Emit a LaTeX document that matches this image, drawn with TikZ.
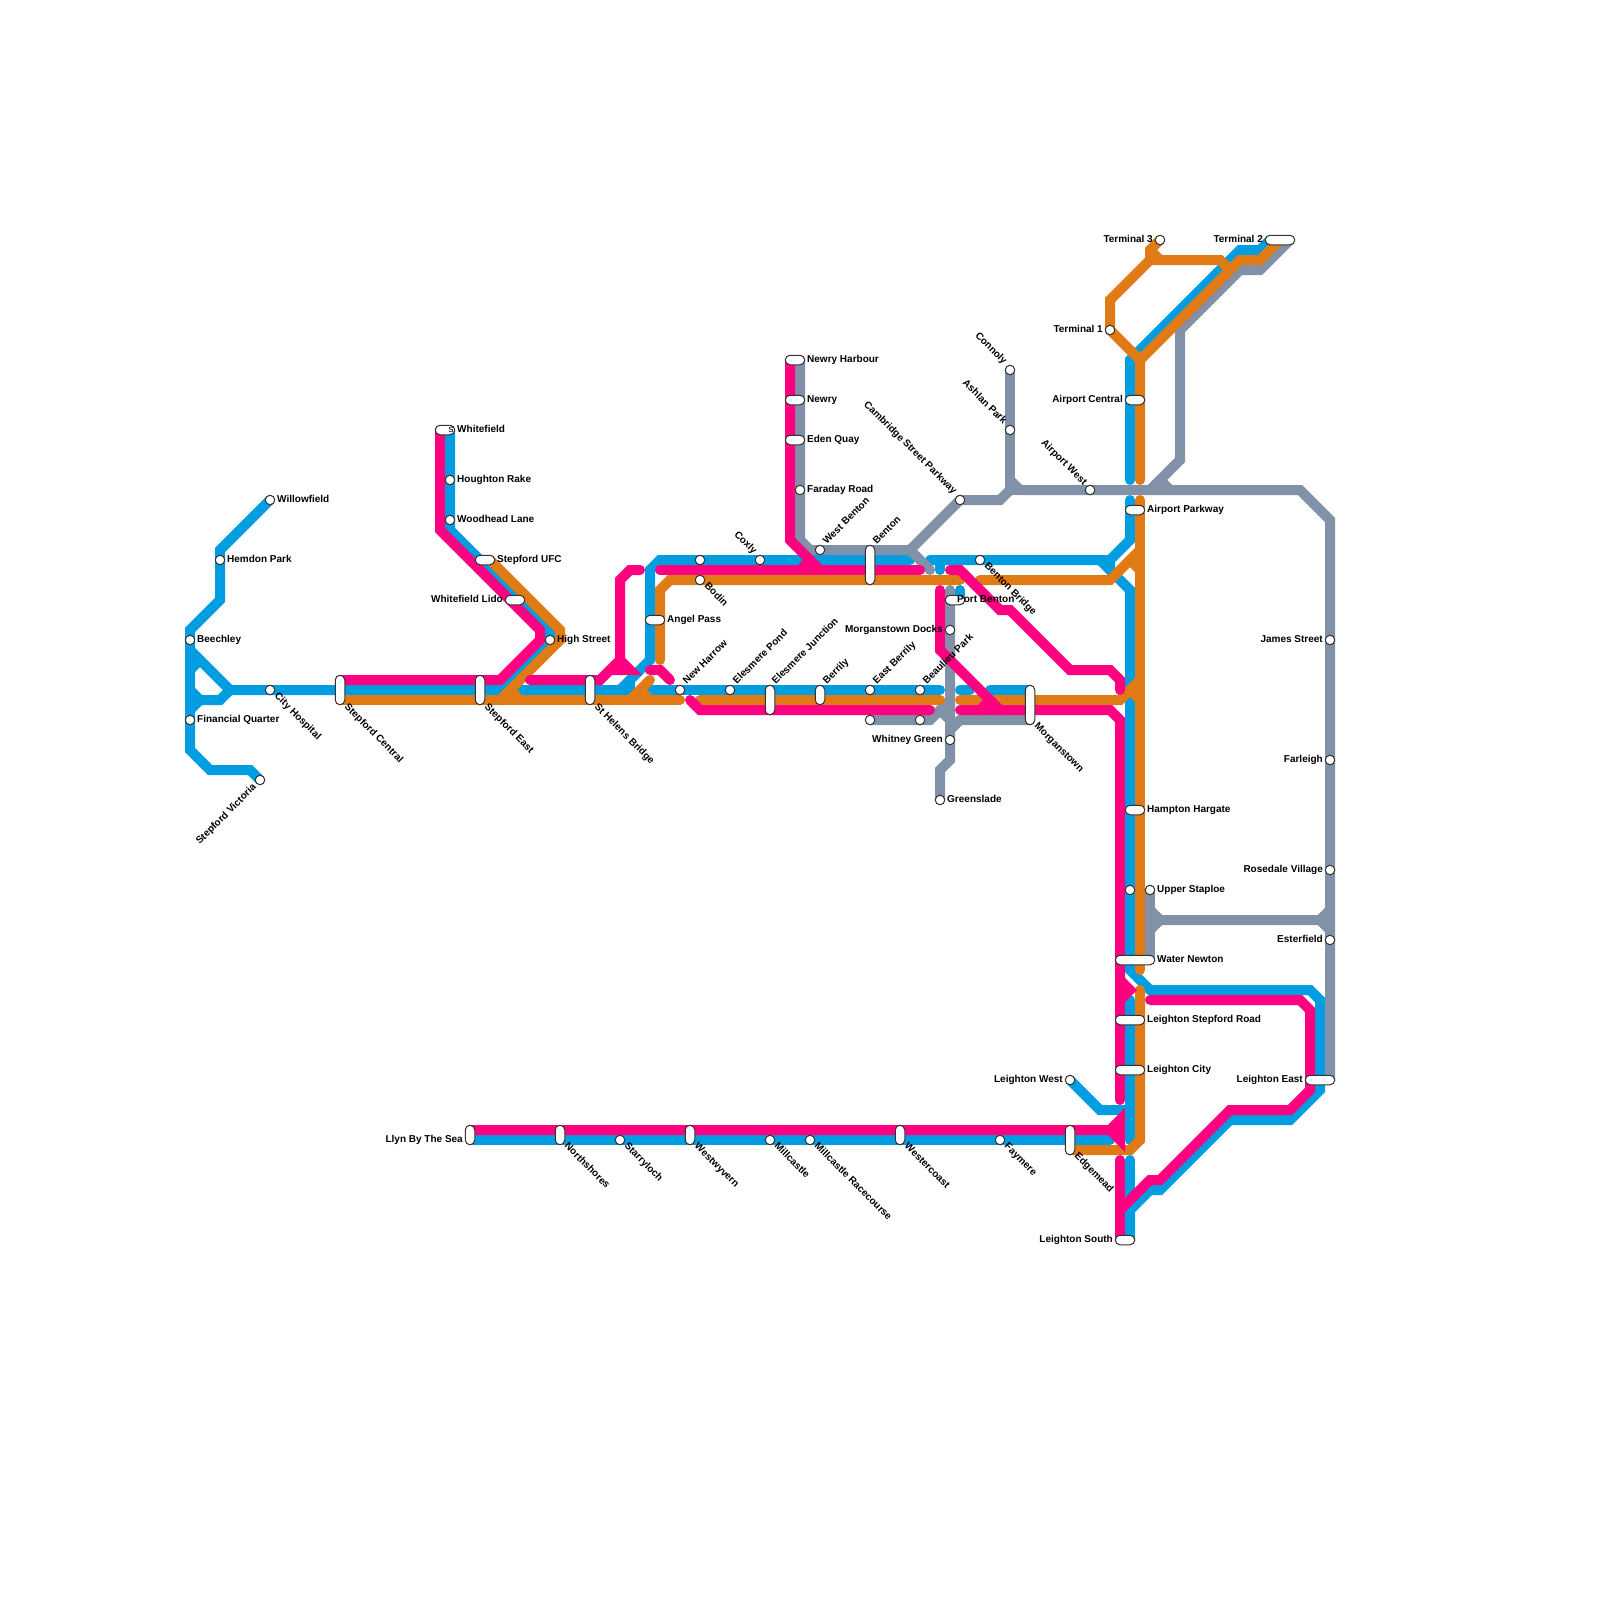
\documentclass[tikz,border=0pt]{standalone}
\usepackage{fontspec}
\setmainfont{Liberation Sans}
\usetikzlibrary{backgrounds}
\definecolor{lineblue}{rgb}{0,0.62,0.88}
\definecolor{linepink}{rgb}{1,0,0.5}
\definecolor{lineorange}{rgb}{0.88,0.48,0.08}
\definecolor{linegrey}{rgb}{0.5,0.57,0.66}
\definecolor{edge}{rgb}{0.2,0.2,0.2}
\begin{document}
\begin{tikzpicture}[
		x=1pt, y=-1pt,
		st/.style = {circle, draw=edge, fill=white, line width=1pt, inner sep=0pt, minimum size=9.5pt},
		hb/.style = {rectangle, rounded corners=4.75pt, draw=edge, fill=white, line width=1pt, inner sep=0pt, minimum width=9.5pt, minimum height=9.5pt},
		tx/.style = {font=\fontsize{10}{12}\selectfont\bfseries, inner sep=0pt, text height=7.2pt, text depth=2.2pt},
		tr/.style = {tx, anchor=west, xshift=-1pt, yshift=-1.3pt},
		tl/.style = {tx, anchor=east, xshift=1pt, yshift=-1.3pt},
		tne/.style = {tx, anchor=west, rotate=45},
		tse/.style = {tx, anchor=west, rotate=-45, xshift=-1pt, yshift=0.5pt},
		tnw/.style = {tx, anchor=east, rotate=-45},
		tsw/.style = {tx, anchor=east, rotate=45},
		rl/.style = {line width=10pt, line cap=round},
		lb/.style = {rl, draw=lineblue},
		lg/.style = {rl, draw=linegrey},
		lo/.style = {rl, draw=lineorange},
		lp/.style = {rl, draw=linepink}
		]
		\useasboundingbox (0,0) rectangle (1600,1600);

		%Stations
		\node[st]	(willowfield)	at	(270, 500)	{};
		\node[st]	(hemdon)	at	(220, 560)	{};
		\node[st]	(beechley)	at	(190, 640)	{};
		\node[st]	(financial)	at	(190, 720)	{};
		\node[st]	(cityhosp)	at	(270, 690)	{};
		\node[st]	(victoria)	at	(260, 780)	{};
		\node[hb, minimum height=29.5pt]	(stepcentral)	at	(340, 690)	{};
		\node[hb, minimum height=29.5pt]	(stepeast)	at	(480, 690)	{};
		\node[hb, minimum height=29.5pt]	(sthelens)	at	(590, 690)	{};
		\node[hb, minimum width=19.5pt]	(whitefield)	at	(445, 430)	{};
		\node[st]	(houghton)	at	(450, 480)	{};
		\node[st]	(woodhead)	at	(450, 520)	{};
		\node[hb, minimum width=19.5pt]	(stepufc)	at	(485, 560)	{};
		\node[hb, minimum width=19.5pt]	(lido)	at	(515, 600)	{};
		\node[st]	(highst)	at	(550, 640)	{};
		\node[hb, minimum width=19.5pt]	(angel)	at	(655, 620)	{};
		\node[st]	(blank1)	at	(700, 560)	{};
		\node[st]	(bodin)	at	(700, 580)	{};
		\node[st]	(coxly)	at	(760, 560)	{};
		\node[st]	(newharrow)	at	(680, 690)	{};
		\node[st]	(pond)	at	(730, 690)	{};
		\node[hb, minimum height=29.5pt]	(junction)	at	(770, 700)	{};
		\node[hb, minimum height=19.5pt]	(berrily)	at	(820, 695)	{};
		\node[st]	(eastberrily)	at	(870, 690)	{};
		\node[st]	(beaulieu)	at	(920, 690)	{};
		\node[st]	(blank2)	at	(870, 720)	{};
		\node[st]	(blank3)	at	(920, 720)	{};
		\node[hb, minimum width=19.5pt]	(harbour)	at	(795, 360)	{};
		\node[hb, minimum width=19.5pt]	(newry)	at	(795, 400)	{};
		\node[hb, minimum width=19.5pt]	(eden)	at	(795, 440)	{};
		\node[st]	(faraday)	at	(800, 490)	{};
		\node[st]	(westbenton)	at	(820, 550)	{};
		\node[hb, minimum height=39.5pt]	(benton)	at	(870, 565)	{};
		\node[st]	(cambridge)	at	(960, 500)	{};
		\node[st]	(connoly)	at	(1010, 370)	{};
		\node[st]	(ashlan)	at	(1010, 430)	{};
		\node[st]	(airportwest)	at	(1090, 490)	{};
		\node[st]	(bentonbr)	at	(980, 560)	{};
		\node[hb, minimum width=19.5pt]	(portbenton)	at	(955, 600)	{};
		\node[st]	(docks)	at	(950, 630)	{};
		\node[st]	(whitney)	at	(950, 740)	{};
		\node[st]	(greenslade)	at	(940, 800)	{};
		\node[hb, minimum height=39.5pt]	(morganstown)	at	(1030, 705)	{};
		\node[st]	(term1)	at	(1110, 330)	{};
		\node[st]	(term3)	at	(1160, 240)	{};
		\node[hb, minimum width=29.5pt]	(term2)	at	(1280, 240)	{};
		\node[hb, minimum width=19.5pt]	(central)	at	(1135, 400)	{};
		\node[hb, minimum width=19.5pt]	(parkway)	at	(1135, 510)	{};
		\node[hb, minimum width=19.5pt]	(hargate)	at	(1135, 810)	{};
		\node[st]	(blank4)	at	(1130, 890)	{};
		\node[st]	(staploe)	at	(1150, 890)	{};
		\node[hb, minimum width=39.5pt]	(newton)	at	(1135, 960)	{};
		\node[hb, minimum width=29.5pt]	(stepford)	at	(1130, 1020)	{};
		\node[hb, minimum width=29.5pt]	(city)	at	(1130, 1070)	{};
		\node[hb, minimum width=19.5pt]	(south)	at	(1125, 1240)	{};
		\node[hb, minimum width=29.5pt]	(east)	at	(1320, 1080)	{};
		\node[st]	(west)	at	(1070, 1080)	{};
		\node[st]	(james)	at	(1330, 640)	{};
		\node[st]	(farleigh)	at	(1330, 760)	{};
		\node[st]	(rosedale)	at	(1330, 870)	{};
		\node[st]	(esterfield)	at	(1330, 940)	{};
		\node[hb, minimum height=19.5pt]	(llyn)	at	(470, 1135)	{};
		\node[hb, minimum height=19.5pt]	(northshores)	at	(560, 1135)	{};
		\node[st]	(starryloch)	at	(620, 1140)	{};
		\node[hb, minimum height=19.5pt]	(westwyvern)	at	(690, 1135)	{};
		\node[st]	(millcastle)	at	(770, 1140)	{};
		\node[st]	(racecourse)	at	(810, 1140)	{};
		\node[hb, minimum height=19.5pt]	(westercoast)	at	(900, 1135)	{};
		\node[st]	(faymere)	at	(1000, 1140)	{};
		\node[hb, minimum height=29.5pt]	(edgemead)	at	(1070, 1140)	{};

		%Labels
		\node[tr]	(tWillowfield)	at	(278, 499)	{Willowfield};
		\node[tr]	(tHemdon)	at	(228, 559)	{Hemdon Park};
		\node[tr]	(tBeechley)	at	(198, 639)	{Beechley};
		\node[tr]	(tFinancial)	at	(198, 719)	{Financial Quarter};
		\node[tse]	(tCityhosp)	at	(276, 696)	{City Hospital};
		\node[tsw]	(tVictoria)	at	(255, 786)	{Stepford Victoria};
		\node[tse]	(tStepcentral)	at	(346, 707)	{Stepford Central};
		\node[tse]	(tStepeast)	at	(486, 707)	{Stepford East};
		\node[tse]	(tSthelens)	at	(596, 707)	{St Helens Bridge};
		\node[tr]	(tWhitefield)	at	(458, 429)	{Whitefield};
		\node[tx]	(tStray)	at	(451, 430)	{\fontseries{m}\selectfont s};
		\node[tr]	(tHoughton)	at	(458, 479)	{Houghton Rake};
		\node[tr]	(tWoodhead)	at	(458, 519)	{Woodhead Lane};
		\node[tr]	(tStepufc)	at	(498, 559)	{Stepford UFC};
		\node[tl]	(tLido)	at	(502, 599)	{Whitefield Lido};
		\node[tr]	(tHighst)	at	(558, 639)	{High Street};
		\node[tr]	(tAngel)	at	(668, 619)	{Angel Pass};
		\node[tse]	(tBodin)	at	(706, 586)	{Bodin};
		\node[tnw]	(tCoxly)	at	(755, 553)	{Coxly};
		\node[tne]	(tNewharrow)	at	(685, 683)	{New Harrow};
		\node[tne]	(tPond)	at	(735, 683)	{Elesmere Pond};
		\node[tne]	(tJunction)	at	(774, 683)	{Elesmere Junction};
		\node[tne]	(tBerrily)	at	(825, 683)	{Berrily};
		\node[tne]	(tEastberrily)	at	(875, 683)	{East Berrily};
		\node[tne]	(tBeaulieu)	at	(925, 683)	{Beaulieu Park};
		\node[tr]	(tHarbour)	at	(808, 359)	{Newry Harbour};
		\node[tr]	(tNewry)	at	(808, 399)	{Newry};
		\node[tr]	(tEden)	at	(808, 439)	{Eden Quay};
		\node[tr]	(tFaraday)	at	(808, 489)	{Faraday Road};
		\node[tne]	(tWestbenton)	at	(825, 543)	{West Benton};
		\node[tne]	(tBenton)	at	(875, 543)	{Benton};
		\node[tnw]	(tCambridge)	at	(955, 493)	{Cambridge Street Parkway};
		\node[tnw]	(tConnoly)	at	(1005, 363)	{Connoly};
		\node[tnw]	(tAshlan)	at	(1005, 423)	{Ashlan Park};
		\node[tnw]	(tAirportwest)	at	(1085, 484)	{Airport West};
		\node[tse]	(tBentonbr)	at	(986, 566)	{Benton Bridge};
		\node[tr]	(tPortbenton)	at	(958, 599)	{Port Benton};
		\node[tl]	(tDocks)	at	(942, 629)	{Morganstown Docks};
		\node[tl]	(tWhitney)	at	(942, 739)	{Whitney Green};
		\node[tr]	(tGreenslade)	at	(948, 799)	{Greenslade};
		\node[tse]	(tMorganstown)	at	(1036, 726)	{Morganstown};
		\node[tl]	(tTerm1)	at	(1102, 329)	{Terminal 1};
		\node[tl]	(tTerm3)	at	(1152, 239)	{Terminal 3};
		\node[tl]	(tTerm2)	at	(1262, 239)	{Terminal 2};
		\node[tl]	(tCentral)	at	(1122, 399)	{Airport Central};
		\node[tr]	(tParkway)	at	(1148, 509)	{Airport Parkway};
		\node[tr]	(tHargate)	at	(1148, 809)	{Hampton Hargate};
		\node[tr]	(tStaploe)	at	(1158, 889)	{Upper Staploe};
		\node[tr]	(tNewton)	at	(1158, 959)	{Water Newton};
		\node[tr]	(tStepford)	at	(1148, 1019)	{Leighton Stepford Road};
		\node[tr]	(tCity)	at	(1148, 1069)	{Leighton City};
		\node[tl]	(tSouth)	at	(1112, 1239)	{Leighton South};
		\node[tl]	(tEast)	at	(1302, 1079)	{Leighton East};
		\node[tl]	(tWest)	at	(1062, 1079)	{Leighton West};
		\node[tl]	(tJames)	at	(1322, 639)	{James Street};
		\node[tl]	(tFarleigh)	at	(1322, 759)	{Farleigh};
		\node[tl]	(tRosedale)	at	(1322, 869)	{Rosedale Village};
		\node[tl]	(tEsterfield)	at	(1322, 939)	{Esterfield};
		\node[tl]	(tLlyn)	at	(462, 1139)	{Llyn By The Sea};
		\node[tse]	(tNorthshores)	at	(566, 1146)	{Northshores};
		\node[tse]	(tStarryloch)	at	(626, 1146)	{Starryloch};
		\node[tse]	(tWestwyvern)	at	(696, 1146)	{Westwyvern};
		\node[tse]	(tMillcastle)	at	(776, 1146)	{Millcastle};
		\node[tse]	(tRacecourse)	at	(816, 1146)	{Millcastle Racecourse};
		\node[tse]	(tWestercoast)	at	(906, 1146)	{Westercoast};
		\node[tse]	(tFaymere)	at	(1006, 1146)	{Faymere};
		\node[tse]	(tEdgemead)	at	(1076, 1156)	{Edgemead};

		%Free line ends
		\coordinate	(bA)	at	(190, 650);
		\coordinate	(bB)	at	(190, 670);
		\coordinate	(bC)	at	(190, 690);
		\coordinate	(bD)	at	(190, 710);
		\coordinate	(bE)	at	(620, 690);
		\coordinate	(bF)	at	(650, 690);
		\coordinate	(bG)	at	(940, 690);
		\coordinate	(bH)	at	(960, 690);
		\coordinate	(bI)	at	(970, 690);
		\coordinate	(bJ)	at	(990, 690);
		\coordinate	(bK)	at	(1030, 690);
		\coordinate	(bL)	at	(930, 560);
		\coordinate	(bM)	at	(910, 560);
		\coordinate	(bN)	at	(940, 560);
		\coordinate	(bO)	at	(940, 570);
		\coordinate	(bP)	at	(960, 590);
		\coordinate	(bQ)	at	(960, 600);
		\coordinate	(bR)	at	(1110, 560);
		\coordinate	(bS)	at	(1110, 570);
		\coordinate	(bT)	at	(1130, 500);
		\coordinate	(bU)	at	(1130, 480);
		\coordinate	(bV)	at	(1130, 360);
		\coordinate	(bW)	at	(1270, 240);
		\coordinate	(bX)	at	(1130, 1000);
		\coordinate	(bY)	at	(1130, 1140);
		\coordinate	(bZ)	at	(1130, 1110);
		\coordinate	(bAa)	at	(470, 1140);
		\coordinate	(bAb)	at	(1110, 1140);
		\coordinate	(bAc)	at	(1130, 1160);
		\coordinate	(bAd)	at	(1130, 1200);
		\coordinate	(bAe)	at	(1130, 1240);
		\coordinate	(bAf)	at	(450, 430);
		\coordinate	(gA)	at	(800, 360);
		\coordinate	(gB)	at	(910, 550);
		\coordinate	(gC)	at	(930, 570);
		\coordinate	(gD)	at	(1330, 1080);
		\coordinate	(gE)	at	(1010, 490);
		\coordinate	(gF)	at	(1180, 330);
		\coordinate	(gG)	at	(1150, 490);
		\coordinate	(gH)	at	(1160, 480);
		\coordinate	(gI)	at	(1170, 490);
		\coordinate	(gJ)	at	(1290, 240);
		\coordinate	(gK)	at	(950, 590);
		\coordinate	(gL)	at	(950, 700);
		\coordinate	(gM)	at	(940, 710);
		\coordinate	(gN)	at	(950, 720);
		\coordinate	(gO)	at	(950, 730);
		\coordinate	(gP)	at	(1030, 720);
		\coordinate	(gQ)	at	(1150, 960);
		\coordinate	(gR)	at	(1150, 910);
		\coordinate	(gS)	at	(1150, 930);
		\coordinate	(gT)	at	(1160, 920);
		\coordinate	(gU)	at	(1320, 920);
		\coordinate	(gV)	at	(1330, 910);
		\coordinate	(gW)	at	(1330, 930);
		\coordinate	(oA)	at	(490, 560);
		\coordinate	(oB)	at	(500, 700);
		\coordinate	(oC)	at	(340, 700);
		\coordinate	(oD)	at	(680, 700);
		\coordinate	(oE)	at	(510, 690);
		\coordinate	(oF)	at	(520, 700);
		\coordinate	(oG)	at	(630, 700);
		\coordinate	(oH)	at	(650, 680);
		\coordinate	(oI)	at	(640, 690);
		\coordinate	(oJ)	at	(650, 700);
		\coordinate	(oK)	at	(660, 660);
		\coordinate	(oL)	at	(960, 580);
		\coordinate	(oM)	at	(700, 700);
		\coordinate	(oN)	at	(940, 700);
		\coordinate	(oO)	at	(960, 700);
		\coordinate	(oP)	at	(1140, 680);
		\coordinate	(oQ)	at	(1130, 690);
		\coordinate	(oR)	at	(1140, 700);
		\coordinate	(oS)	at	(980, 580);
		\coordinate	(oT)	at	(1140, 550);
		\coordinate	(oU)	at	(1130, 560);
		\coordinate	(oV)	at	(1140, 570);
		\coordinate	(oW)	at	(1140, 480);
		\coordinate	(oX)	at	(1140, 360);
		\coordinate	(oY)	at	(1140, 500);
		\coordinate	(oZ)	at	(1140, 970);
		\coordinate	(oAa)	at	(1140, 990);
		\coordinate	(oAb)	at	(1070, 1150);
		\coordinate	(oAc)	at	(1230, 270);
		\coordinate	(oAd)	at	(1280, 240);
		\coordinate	(oAe)	at	(1150, 260);
		\coordinate	(oAf)	at	(1150, 250);
		\coordinate	(oAg)	at	(1160, 260);
		\coordinate	(pA)	at	(440, 430);
		\coordinate	(pB)	at	(340, 680);
		\coordinate	(pC)	at	(530, 680);
		\coordinate	(pD)	at	(640, 570);
		\coordinate	(pE)	at	(620, 660);
		\coordinate	(pF)	at	(610, 670);
		\coordinate	(pG)	at	(650, 670);
		\coordinate	(pH)	at	(670, 680);
		\coordinate	(pI)	at	(690, 700);
		\coordinate	(pJ)	at	(930, 710);
		\coordinate	(pK)	at	(660, 570);
		\coordinate	(pL)	at	(920, 570);
		\coordinate	(pM)	at	(790, 360);
		\coordinate	(pN)	at	(820, 570);
		\coordinate	(pO)	at	(800, 570);
		\coordinate	(pP)	at	(810, 560);
		\coordinate	(pQ)	at	(950, 570);
		\coordinate	(pR)	at	(1120, 690);
		\coordinate	(pS)	at	(940, 590);
		\coordinate	(pT)	at	(1000, 710);
		\coordinate	(pU)	at	(960, 710);
		\coordinate	(pV)	at	(1120, 1100);
		\coordinate	(pW)	at	(980, 710);
		\coordinate	(pX)	at	(990, 700);
		\coordinate	(pY)	at	(1120, 980);
		\coordinate	(pZ)	at	(1120, 1000);
		\coordinate	(pAa)	at	(470, 1130);
		\coordinate	(pAb)	at	(1120, 1120);
		\coordinate	(pAc)	at	(1120, 1140);
		\coordinate	(pAd)	at	(1110, 1130);
		\coordinate	(pAe)	at	(1120, 1160);
		\coordinate	(pAf)	at	(1120, 1240);
		\coordinate	(pAg)	at	(1150, 1000);
		\coordinate	(pAh)	at	(1120, 1210);

		%Lines
		\begin{scope}[on background layer]
		\fill[white] (0,0) rectangle (1600,1600);
		\draw[lb]	(willowfield.center) -- (220, 550) -- (hemdon.center) -- (220, 600) -- (190, 630) -- (beechley.center) -- (financial.center) -- (190, 750) -- (210, 770) -- (250, 770) -- (victoria.center);
		\draw[lb]	(bA) -- (230, 690) -- (cityhosp.center) -- (630, 690) -- (630, 680) -- (650, 660) -- (650, 570) -- (660, 560) -- (blank1.center) -- (coxly.center) -- (bM);
		\draw[lb]	(bB) -- (200, 660);
		\draw[lb]	(bC) -- (200, 700);
		\draw[lb]	(bD) -- (200, 700) -- (220, 700) -- (230, 690);
		\draw[lb]	(bE) -- (630, 680);
		\draw[lb]	(bF) -- (newharrow.center) -- (pond.center) -- (eastberrily.center) -- (beaulieu.center) -- (bG);
		\draw[lb]	(bH) -- (bI);
		\draw[lb]	(bJ) -- (bK);
		\draw[lb]	(bL) -- (bentonbr.center) -- (1100, 560) -- (1130, 590) -- (blank4.center) -- (1130, 970) -- (1150, 990) -- (1310, 990) -- (1320, 1000) -- (1320, 1090) -- (1290, 1120) -- (1230, 1120) -- (1160, 1190) -- (1150, 1190) -- (1130, 1210) -- (bAe);
		\draw[lb]	(1100, 560) -- (bR);
		\draw[lb]	(bN) -- (bO);
		\draw[lb]	(bP) -- (bQ);
		\draw[lb]	(bS) -- (bR) -- (1130, 540) -- (bT);
		\draw[lb]	(bU) -- (bV) -- (1240, 250) -- (1260, 250) -- (bW);
		\draw[lb]	(bX) -- (bY);
		\draw[lb]	(west.center) -- (1100, 1110) -- (bZ);
		\draw[lb]	(bAa) -- (starryloch.center) -- (millcastle.center) -- (racecourse.center) -- (faymere.center) -- (bAb);
		\draw[lb]	(bAc) -- (bAd);
		\draw[lb]	(bAf) -- (houghton.center) -- (woodhead.center) -- (450, 530) -- (550, 630) -- (highst.center) -- (500, 690);

		\draw[lg]	(gA) -- (faraday.center) -- (800, 540) -- (810, 550) -- (westbenton.center) -- (gB) -- (cambridge.center) -- (1000, 500) -- (gE);
		\draw[lg]	(gB) -- (gC);
		\draw[lg]	(connoly.center) -- (ashlan.center) -- (gE);
		\draw[lg]	(gE) -- (1010, 480) -- (1020, 490) -- (airportwest.center) -- (1300, 490) -- (1330, 520) -- (james.center) -- (farleigh.center) -- (rosedale.center) -- (esterfield.center) -- (gD);
		\draw[lg]	(gE) -- (1020, 490);
		\draw[lg]	(gF) -- (1180, 460) -- (gG);
		\draw[lg]	(gH) -- (gI);
		\draw[lg]	(gF) -- (1240, 270) -- (1260, 270) -- (gJ);
		\draw[lg]	(gK) -- (docks.center) -- (whitney.center) -- (950, 760) -- (940, 770) -- (greenslade.center);
		\draw[lg]	(blank2.center) -- (blank3.center) -- (930, 720) -- (gL);
		\draw[lg]	(gM) -- (gN);
		\draw[lg]	(gO) -- (960, 720) -- (gP);
		\draw[lg]	(staploe.center) -- (gQ);
		\draw[lg]	(gR) -- (gT) -- (gU) -- (gV);
		\draw[lg]	(gS) -- (gT);
		\draw[lg]	(gU) -- (gW);

		\draw[lo]	(oA) -- (560, 630) -- (560, 640) -- (oB);
		\draw[lo]	(oC) -- (oD);
		\draw[lo]	(oE) -- (oF);
		\draw[lo]	(oG) -- (oH);
		\draw[lo]	(oI) -- (oJ);
		\draw[lo]	(oK) -- (660, 590) -- (670, 580) -- (oL);
		\draw[lo]	(oM) -- (oN);
		\draw[lo]	(oO) -- (1120, 700) -- (oP);
		\draw[lo]	(oQ) -- (oR);
		\draw[lo]	(oS) -- (1110, 580) -- (oT);
		\draw[lo]	(oU) -- (oV);
		\draw[lo]	(oW) -- (oX) -- (term1.center) -- (1110, 300) -- (oAe) -- (1220, 260) -- (oAc);
		\draw[lo]	(oX) -- (1240, 260) -- (1260, 260) -- (oAd);
		\draw[lo]	(oY) -- (oZ);
		\draw[lo]	(oAa) -- (1140, 1140) -- (1130, 1150) -- (oAb);
		\draw[lo]	(oAe) -- (oAf) -- (term3.center);
		\draw[lo]	(oAf) -- (oAg);

		\draw[lp]	(pA) -- (440, 530) -- (540, 630) -- (540, 640) -- (500, 680) -- (pB);
		\draw[lp]	(pC) -- (600, 680) -- (pE) -- (620, 580) -- (630, 570) -- (pD);
		\draw[lp]	(pE) -- (630, 670) -- (pF);
		\draw[lp]	(pG) -- (660, 670) -- (pH);
		\draw[lp]	(pI) -- (700, 710) -- (pJ);
		\draw[lp]	(pK) -- (pL);
		\draw[lp]	(pM) -- (790, 540) -- (pN);
		\draw[lp]	(pO) -- (pP);
		\draw[lp]	(pQ) -- (960, 570) -- (1000, 610) -- (1010, 610) -- (1070, 670) -- (1110, 670) -- (1120, 680) -- (pR);
		\draw[lp]	(pS) -- (940, 650) -- (pT);
		\draw[lp]	(pU) -- (1110, 710) -- (1120, 720) -- (pV);
		\draw[lp]	(pW) -- (pX);
		\draw[lp]	(pY) -- (1130, 990) -- (pZ);
		\draw[lp]	(pAa) -- (pAd) -- (pAb) -- (pAc) -- (pAd);
		\draw[lp]	(pAe) -- (pAf);
		\draw[lp]	(pAg) -- (1300, 1000) -- (1310, 1010) -- (1310, 1090) -- (1290, 1110) -- (1230, 1110) -- (1160, 1180) -- (1150, 1180) -- (pAh);
		\end{scope}
	\end{tikzpicture}
\end{document}
